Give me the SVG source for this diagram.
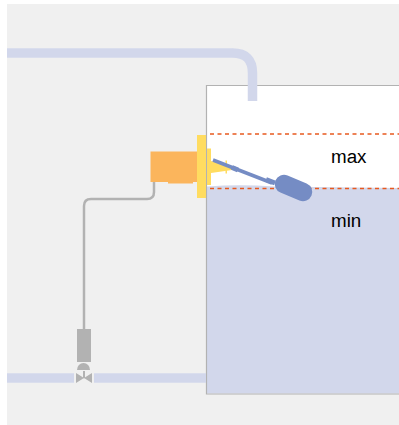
<svg xmlns="http://www.w3.org/2000/svg" width="399" height="425" viewBox="0 0 399 425">
<style>
.pipe{fill:none;stroke:#d2d7eb;stroke-width:9.5}
.sig{fill:none;stroke:#b2b2b2;stroke-width:2.500}
.lvl{fill:none;stroke:#e8591f;stroke-width:1.500;stroke-dasharray:4 3.500}
.arm{fill:none;stroke:#758cc4}
.y{fill:#ffdc60}
.g{fill:#b2b2b2}
text{font-family:"Liberation Sans",Arial,sans-serif;font-size:18.800px;fill:#000}
</style>
<rect x="7" y="4" width="392" height="421" fill="#f0f0f0"/>
<g id="tank">
<rect x="206.500" y="85.500" width="193.500" height="308.500" fill="#fff"/>
<path d="M207 186.500Q240 184 274 186.500L400 188V393.500H207Z" fill="#d2d7eb"/>
<path d="M400 85.500H206.500V394H400" fill="none" stroke="#b2b2b2" stroke-width="1.200"/>
</g>
<g id="connectors">
<path class="pipe" d="M7 53H232.500Q252.500 53 252.500 73V101"/>
<path class="pipe" d="M7 378H74M93 378H206"/>
<path class="sig" d="M154 182V192Q154 199 147 199H91Q84 199 84 206V329"/>
</g>
<g id="levels">
<path class="lvl" d="M210 134H399"/>
<path class="lvl" d="M210 188.500H399"/>
</g>
<g id="controller">
<rect x="150.500" y="151.500" width="47" height="30.500" fill="#fbb55c"/>
<rect x="168" y="181" width="25" height="2.500" fill="#fbb55c"/>
</g>
<g id="float-switch">
<rect class="y" x="197" y="135" width="9" height="63"/>
<rect class="y" x="207" y="148.500" width="4" height="36.500"/>
<path class="y" d="M211 161L232 166V170L211 173Z"/>
<rect class="y" x="225.500" y="160.500" width="1.500" height="13"/>
<path class="arm" stroke-width="3.500" d="M213 160L272 183"/>
<path class="arm" stroke-width="5" d="M232 167.500L238 170M266 179.500L275 183"/>
<path class="arm" stroke-width="18.500" stroke-linecap="round" d="M284 184L303 192"/>
</g>
<g id="valve">
<rect class="g" x="77" y="329" width="14" height="33"/>
<path class="g" d="M77 370A6.500 7 0 0 1 90 370Z"/>
<path d="M74 372H94V384H74Z" fill="#f0f0f0"/>
<path class="g" d="M76 373L92 383V373L76 383Z"/>
<rect class="g" x="83" y="371" width="2" height="7"/>
</g>
<g id="labels">
<text x="331" y="162.500">max</text>
<text x="331" y="226.500">min</text>
</g>
</svg>
